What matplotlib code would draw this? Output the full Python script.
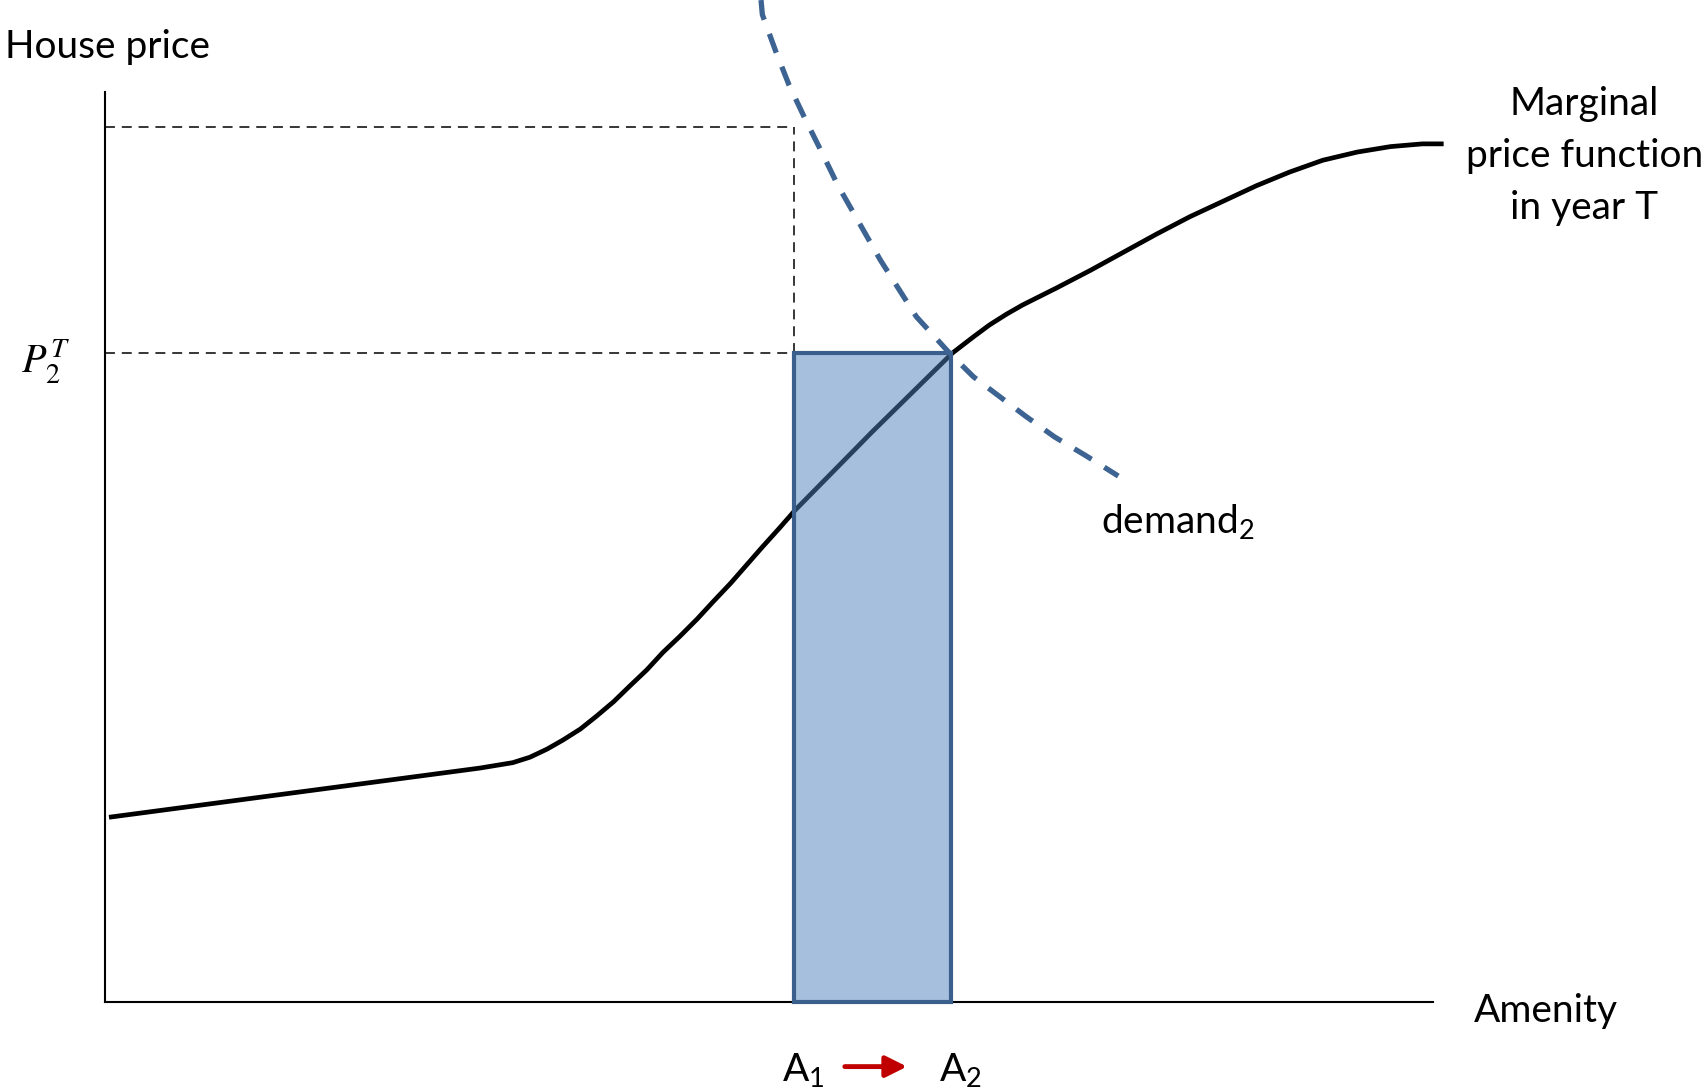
import matplotlib as mpl
mpl.use('Agg')
import matplotlib.pyplot as plt
from matplotlib.patches import Rectangle

plt.rcParams['font.family'] = ['Lato', 'DejaVu Sans']
plt.rcParams['mathtext.fontset'] = 'custom'
plt.rcParams['mathtext.rm'] = 'Lato'
plt.rcParams['mathtext.it'] = 'Lato:italic'

# marginal price function (amenity, price)
price_x = [0.03, 2.82, 3.07, 3.20, 3.33, 3.45, 3.58, 3.70, 3.83, 3.95, 4.08,
           4.20, 4.33, 4.46, 4.58, 4.71, 4.83, 4.95, 5.08, 5.20, 5.78, 6.38,
           6.54, 6.66, 6.79, 6.91, 7.17, 7.42, 7.67, 7.92, 8.17, 8.42, 8.67,
           8.92, 9.17, 9.43, 9.68, 9.92, 10.08]
price_y = [2.03, 2.57, 2.63, 2.69, 2.78, 2.88, 3.00, 3.14, 3.30, 3.47, 3.65,
           3.84, 4.02, 4.21, 4.40, 4.60, 4.80, 5.00, 5.21, 5.41, 6.27, 7.13,
           7.31, 7.44, 7.56, 7.66, 7.85, 8.04, 8.24, 8.44, 8.63, 8.80, 8.97,
           9.12, 9.25, 9.34, 9.40, 9.43, 9.43]

# demand curve
demand_x = [4.94, 4.95, 5.05, 5.15, 5.27, 5.40, 5.52, 5.84, 6.11, 6.36, 6.54,
            6.93, 7.15, 7.39, 7.63]
demand_y = [11.01, 10.85, 10.45, 10.08, 9.71, 9.33, 8.97, 8.15, 7.53, 7.13, 6.87,
            6.44, 6.21, 6.00, 5.78]

A1 = 5.19
A2 = 6.37
P2 = 7.13
P_top = 9.62

fig = plt.figure(figsize=(17.04, 10.91), dpi=100)
ax = fig.add_axes([105/1704, 89/1091, 1328/1704, 910/1091])
ax.set_xlim(0, 10)
ax.set_ylim(0, 10)
for s in ['top', 'right']:
    ax.spines[s].set_visible(False)
for s in ['left', 'bottom']:
    ax.spines[s].set_linewidth(1.5)
ax.set_xticks([])
ax.set_yticks([])

dash_k = dict(color='black', lw=1.1, dashes=(6.5, 4.5))
ax.plot([0, A1], [P_top, P_top], **dash_k)
ax.plot([A1, A1], [P2, P_top], **dash_k)
ax.plot([0, A1], [P2, P2], **dash_k)

ax.plot(price_x, price_y, color='black', lw=3.4, zorder=2, clip_on=False,
        solid_capstyle='butt', solid_joinstyle='round')

ax.add_patch(Rectangle((A1, 0), A2 - A1, P2, facecolor=(0.31, 0.506, 0.741, 0.5),
                       edgecolor='#3B5F8C', lw=3.0, zorder=3, clip_on=False))

ax.plot(demand_x, demand_y, color='#3C6391', lw=3.8, dashes=(3.8, 2.85),
        zorder=4, clip_on=False)

fs = 28
ax.text(-0.75, 10.49, 'House price', fontsize=fs, ha='left', va='center')
ax.text(-0.45, 7.03, r'$P_2^T$', fontsize=29, ha='center', va='center',
        math_fontfamily='stix')
ax.text(11.14, 9.30, 'Marginal\nprice function\nin year T', fontsize=fs,
        ha='center', va='center', linespacing=1.55)
ax.text(10.85, -0.1, 'Amenity', fontsize=fs, ha='center', va='center')
ax.text(7.50, 5.28, 'demand$_2$', fontsize=fs, ha='left', va='center')
ax.text(A1 + 0.07, -0.75, 'A$_1$', fontsize=fs, ha='center', va='center')
ax.text(A2 + 0.07, -0.75, 'A$_2$', fontsize=fs, ha='center', va='center')
ax.annotate('', xy=(6.06, -0.71), xytext=(5.55, -0.71),
            arrowprops=dict(arrowstyle='-|>', color='#C00000', lw=3.5,
                            mutation_scale=32),
            annotation_clip=False)

plt.savefig('out.png', dpi=100)
